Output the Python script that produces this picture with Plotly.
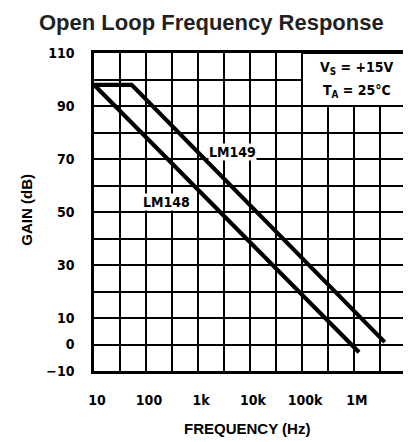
import math
import plotly.graph_objects as go

# ---- data ----
lm148_freq = [10, 1.25e6]
lm148_gain = [98, -2.9]
lm149_freq = [10, 53, 3.9e6]
lm149_gain = [98, 98, 0.9]

x_tick_vals = [10, 100, 1e3, 1e4, 1e5, 1e6]
x_tick_text = ["10", "100", "1k", "10k", "100k", "1M"]
x_minor_vals = [31.62, 316.2, 3162, 31620, 316200, 3.162e6]
y_tick_vals = [-10, 0, 10, 30, 50, 70, 90, 110]
y_tick_text = ["\u221210", "0", "10", "30", "50", "70", "90", "110"]
y_minor_vals = [20, 40, 60, 80, 100]

title_text = "Open Loop Frequency Response"
x_title = "FREQUENCY (Hz)"
y_title = "GAIN (dB)"
cond_lines = ["V<sub>S</sub> = +15V", "T<sub>A</sub> = 25\u00b0C"]
box_x = [1e5, 1e7]
box_y = [90, 110]
labels = [("LM149", 4590, 72.7), ("LM148", 244, 53.9)]

FONT = "DejaVu Sans Condensed, Liberation Sans Narrow, Arial Narrow, sans-serif"
FONT_W = "Liberation Sans, Arial, Helvetica, sans-serif"

# page body has an 8px margin; plot area is placed at x 94..409, y 53..371 on screen
OFF = 8
PL, PR, PT, PB = 94, 409, 53, 371
PW, PH = PR - PL, PB - PT


def px(xs):
    return (xs - PL) / PW


def py(ys):
    return (PB - ys) / PH


fig = go.Figure()
fig.add_trace(go.Scatter(x=lm148_freq, y=lm148_gain, mode="lines",
                         line=dict(color="black", width=4.2), showlegend=False))
fig.add_trace(go.Scatter(x=lm149_freq, y=lm149_gain, mode="lines",
                         line=dict(color="black", width=4.2), showlegend=False))

fig.update_layout(
    width=411 - OFF, height=442 - OFF,
    margin=dict(l=PL - OFF, r=411 - PR, t=PT - OFF, b=442 - PB, pad=0),
    paper_bgcolor="white", plot_bgcolor="white",
    showlegend=False,
)
grid = dict(showgrid=True, gridcolor="black", gridwidth=1.6, ticks="")
fig.update_xaxes(
    type="log", range=[1, 7],
    tickmode="array", tickvals=x_tick_vals, ticktext=x_tick_text,
    minor=dict(tickmode="array", tickvals=x_minor_vals, **grid),
    showgrid=True, gridcolor="black", gridwidth=1.6,
    showline=True, linecolor="black", linewidth=2.5, mirror=True,
    ticks="", ticklabelstandoff=14, ticklabelshift=3,
    tickfont=dict(family=FONT, size=14, color="black", weight="bold"),
    zeroline=False,
)
fig.update_yaxes(
    range=[-10, 110],
    tickmode="array", tickvals=y_tick_vals, ticktext=y_tick_text,
    minor=dict(tickmode="array", tickvals=y_minor_vals, **grid),
    showgrid=True, gridcolor="black", gridwidth=1.6,
    showline=True, linecolor="black", linewidth=2.5, mirror=True,
    ticks="", ticklabelstandoff=14,
    tickfont=dict(family=FONT, size=14, color="black", weight="bold"),
    zeroline=False,
)

# condition box
fig.add_shape(type="rect", xref="x", yref="y",
              x0=box_x[0], x1=box_x[1], y0=box_y[0], y1=box_y[1],
              fillcolor="white", line=dict(color="black", width=2), layer="above")
fig.add_annotation(xref="paper", yref="paper", x=px(359.5), y=py(68),
                   text=cond_lines[0], showarrow=False, xanchor="center", yanchor="middle",
                   font=dict(family=FONT, size=14, color="black", weight="bold"))
fig.add_annotation(xref="paper", yref="paper", x=px(359.5), y=py(91),
                   text=cond_lines[1], showarrow=False, xanchor="center", yanchor="middle",
                   font=dict(family=FONT, size=14, color="black", weight="bold"))

for name, fx, gy in labels:
    fig.add_annotation(x=math.log10(fx), y=gy, xref="x", yref="y",
                       text=name, showarrow=False, bgcolor="white", borderpad=0,
                       font=dict(family=FONT, size=14, color="black", weight="bold"))

# titles
fig.add_annotation(xref="paper", yref="paper", x=px(213), y=py(8.5),
                   text=title_text, showarrow=False, xanchor="center", yanchor="top",
                   borderpad=0,
                   font=dict(family=FONT_W, size=22, color="#231f20", weight="bold"))
fig.add_annotation(xref="paper", yref="paper", x=px(248), y=py(428),
                   text=x_title, showarrow=False, xanchor="center", yanchor="middle",
                   font=dict(family=FONT_W, size=15, color="black", weight="bold"))
fig.add_annotation(xref="paper", yref="paper", x=px(25), y=py(210),
                   text=y_title, showarrow=False, xanchor="center", yanchor="middle",
                   textangle=-90,
                   font=dict(family=FONT_W, size=15, color="black", weight="bold"))

fig.write_html("out.html")
